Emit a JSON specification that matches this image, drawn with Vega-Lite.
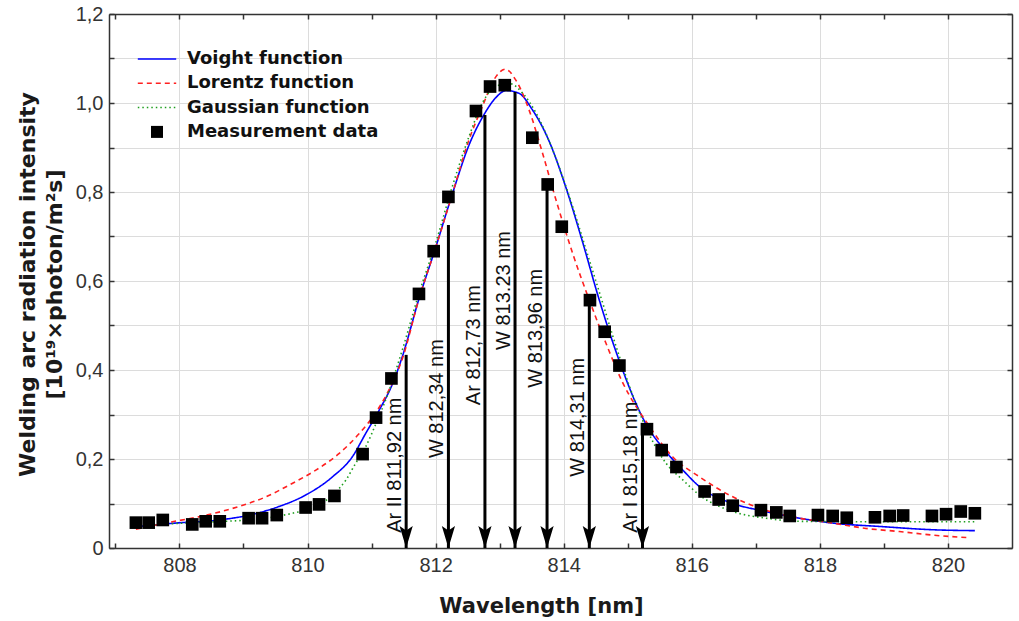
{
  "$schema": "https://vega.github.io/schema/vega-lite/v6.json",
  "width": 903,
  "height": 534,
  "autosize": {"type": "none"},
  "padding": {"left": 109, "top": 14, "right": 7, "bottom": 73},
  "background": "white",
  "config": {"view": {"stroke": null}, "font": "Liberation Sans"},
  "datasets": {
    "curves": [
      {"series": "Voight function", "wl": 807.32, "value": 0.048},
      {"series": "Voight function", "wl": 807.94, "value": 0.056},
      {"series": "Voight function", "wl": 808.62, "value": 0.063},
      {"series": "Voight function", "wl": 809.09, "value": 0.074},
      {"series": "Voight function", "wl": 809.55, "value": 0.093},
      {"series": "Voight function", "wl": 809.97, "value": 0.119},
      {"series": "Voight function", "wl": 810.39, "value": 0.160},
      {"series": "Voight function", "wl": 810.70, "value": 0.205},
      {"series": "Voight function", "wl": 810.91, "value": 0.258},
      {"series": "Voight function", "wl": 811.12, "value": 0.310},
      {"series": "Voight function", "wl": 811.33, "value": 0.370},
      {"series": "Voight function", "wl": 811.48, "value": 0.430},
      {"series": "Voight function", "wl": 811.74, "value": 0.560},
      {"series": "Voight function", "wl": 812.00, "value": 0.675},
      {"series": "Voight function", "wl": 812.26, "value": 0.795},
      {"series": "Voight function", "wl": 812.52, "value": 0.905},
      {"series": "Voight function", "wl": 812.76, "value": 0.975},
      {"series": "Voight function", "wl": 812.94, "value": 1.012},
      {"series": "Voight function", "wl": 813.10, "value": 1.028},
      {"series": "Voight function", "wl": 813.30, "value": 1.022},
      {"series": "Voight function", "wl": 813.51, "value": 0.985},
      {"series": "Voight function", "wl": 813.77, "value": 0.915},
      {"series": "Voight function", "wl": 814.03, "value": 0.812},
      {"series": "Voight function", "wl": 814.29, "value": 0.690},
      {"series": "Voight function", "wl": 814.55, "value": 0.560},
      {"series": "Voight function", "wl": 814.82, "value": 0.440},
      {"series": "Voight function", "wl": 815.28, "value": 0.280},
      {"series": "Voight function", "wl": 815.60, "value": 0.216},
      {"series": "Voight function", "wl": 815.86, "value": 0.175},
      {"series": "Voight function", "wl": 816.12, "value": 0.138},
      {"series": "Voight function", "wl": 816.64, "value": 0.100},
      {"series": "Voight function", "wl": 817.05, "value": 0.085},
      {"series": "Voight function", "wl": 817.68, "value": 0.067},
      {"series": "Voight function", "wl": 818.20, "value": 0.056},
      {"series": "Voight function", "wl": 818.98, "value": 0.048},
      {"series": "Voight function", "wl": 819.76, "value": 0.041},
      {"series": "Voight function", "wl": 820.42, "value": 0.039},

      {"series": "Lorentz function", "wl": 807.32, "value": 0.042},
      {"series": "Lorentz function", "wl": 807.78, "value": 0.056},
      {"series": "Lorentz function", "wl": 808.30, "value": 0.070},
      {"series": "Lorentz function", "wl": 808.83, "value": 0.089},
      {"series": "Lorentz function", "wl": 809.35, "value": 0.115},
      {"series": "Lorentz function", "wl": 809.76, "value": 0.145},
      {"series": "Lorentz function", "wl": 810.13, "value": 0.175},
      {"series": "Lorentz function", "wl": 810.49, "value": 0.212},
      {"series": "Lorentz function", "wl": 810.80, "value": 0.256},
      {"series": "Lorentz function", "wl": 811.07, "value": 0.305},
      {"series": "Lorentz function", "wl": 811.27, "value": 0.355},
      {"series": "Lorentz function", "wl": 811.48, "value": 0.425},
      {"series": "Lorentz function", "wl": 811.74, "value": 0.560},
      {"series": "Lorentz function", "wl": 812.00, "value": 0.675},
      {"series": "Lorentz function", "wl": 812.26, "value": 0.795},
      {"series": "Lorentz function", "wl": 812.52, "value": 0.917},
      {"series": "Lorentz function", "wl": 812.73, "value": 0.992},
      {"series": "Lorentz function", "wl": 812.91, "value": 1.052},
      {"series": "Lorentz function", "wl": 813.09, "value": 1.076},
      {"series": "Lorentz function", "wl": 813.25, "value": 1.052},
      {"series": "Lorentz function", "wl": 813.46, "value": 0.984},
      {"series": "Lorentz function", "wl": 813.67, "value": 0.887},
      {"series": "Lorentz function", "wl": 813.88, "value": 0.782},
      {"series": "Lorentz function", "wl": 814.14, "value": 0.662},
      {"series": "Lorentz function", "wl": 814.40, "value": 0.557},
      {"series": "Lorentz function", "wl": 814.66, "value": 0.460},
      {"series": "Lorentz function", "wl": 814.91, "value": 0.375},
      {"series": "Lorentz function", "wl": 815.34, "value": 0.273},
      {"series": "Lorentz function", "wl": 815.70, "value": 0.205},
      {"series": "Lorentz function", "wl": 816.12, "value": 0.160},
      {"series": "Lorentz function", "wl": 816.64, "value": 0.115},
      {"series": "Lorentz function", "wl": 817.16, "value": 0.085},
      {"series": "Lorentz function", "wl": 817.68, "value": 0.067},
      {"series": "Lorentz function", "wl": 818.20, "value": 0.056},
      {"series": "Lorentz function", "wl": 818.72, "value": 0.044},
      {"series": "Lorentz function", "wl": 819.24, "value": 0.037},
      {"series": "Lorentz function", "wl": 819.76, "value": 0.029},
      {"series": "Lorentz function", "wl": 820.34, "value": 0.023},

      {"series": "Gaussian function", "wl": 807.32, "value": 0.050},
      {"series": "Gaussian function", "wl": 807.94, "value": 0.055},
      {"series": "Gaussian function", "wl": 808.57, "value": 0.059},
      {"series": "Gaussian function", "wl": 809.35, "value": 0.067},
      {"series": "Gaussian function", "wl": 809.76, "value": 0.078},
      {"series": "Gaussian function", "wl": 810.13, "value": 0.093},
      {"series": "Gaussian function", "wl": 810.39, "value": 0.119},
      {"series": "Gaussian function", "wl": 810.60, "value": 0.153},
      {"series": "Gaussian function", "wl": 810.75, "value": 0.190},
      {"series": "Gaussian function", "wl": 810.91, "value": 0.228},
      {"series": "Gaussian function", "wl": 811.07, "value": 0.280},
      {"series": "Gaussian function", "wl": 811.22, "value": 0.333},
      {"series": "Gaussian function", "wl": 811.48, "value": 0.445},
      {"series": "Gaussian function", "wl": 811.74, "value": 0.572},
      {"series": "Gaussian function", "wl": 812.00, "value": 0.685},
      {"series": "Gaussian function", "wl": 812.26, "value": 0.812},
      {"series": "Gaussian function", "wl": 812.52, "value": 0.924},
      {"series": "Gaussian function", "wl": 812.73, "value": 1.000},
      {"series": "Gaussian function", "wl": 812.94, "value": 1.037},
      {"series": "Gaussian function", "wl": 813.15, "value": 1.044},
      {"series": "Gaussian function", "wl": 813.36, "value": 1.022},
      {"series": "Gaussian function", "wl": 813.57, "value": 0.977},
      {"series": "Gaussian function", "wl": 813.83, "value": 0.894},
      {"series": "Gaussian function", "wl": 814.09, "value": 0.789},
      {"series": "Gaussian function", "wl": 814.35, "value": 0.670},
      {"series": "Gaussian function", "wl": 814.61, "value": 0.550},
      {"series": "Gaussian function", "wl": 814.82, "value": 0.452},
      {"series": "Gaussian function", "wl": 815.23, "value": 0.288},
      {"series": "Gaussian function", "wl": 815.60, "value": 0.190},
      {"series": "Gaussian function", "wl": 815.86, "value": 0.153},
      {"series": "Gaussian function", "wl": 816.12, "value": 0.119},
      {"series": "Gaussian function", "wl": 816.64, "value": 0.082},
      {"series": "Gaussian function", "wl": 817.16, "value": 0.067},
      {"series": "Gaussian function", "wl": 817.68, "value": 0.060},
      {"series": "Gaussian function", "wl": 818.72, "value": 0.059},
      {"series": "Gaussian function", "wl": 820.42, "value": 0.059}
    ],
    "meas": [
      {"wl": 807.32, "value": 0.057}, {"wl": 807.52, "value": 0.057}, {"wl": 807.74, "value": 0.063},
      {"wl": 808.20, "value": 0.053}, {"wl": 808.41, "value": 0.060}, {"wl": 808.63, "value": 0.060},
      {"wl": 809.08, "value": 0.067}, {"wl": 809.29, "value": 0.067}, {"wl": 809.52, "value": 0.074},
      {"wl": 809.97, "value": 0.091}, {"wl": 810.18, "value": 0.098}, {"wl": 810.42, "value": 0.117},
      {"wl": 810.86, "value": 0.211}, {"wl": 811.07, "value": 0.293}, {"wl": 811.31, "value": 0.381},
      {"wl": 811.74, "value": 0.571}, {"wl": 811.97, "value": 0.667}, {"wl": 812.20, "value": 0.789},
      {"wl": 812.63, "value": 0.982}, {"wl": 812.85, "value": 1.037}, {"wl": 813.08, "value": 1.040},
      {"wl": 813.51, "value": 0.922}, {"wl": 813.75, "value": 0.817}, {"wl": 813.97, "value": 0.722},
      {"wl": 814.41, "value": 0.557}, {"wl": 814.64, "value": 0.486}, {"wl": 814.87, "value": 0.410},
      {"wl": 815.30, "value": 0.267}, {"wl": 815.53, "value": 0.220}, {"wl": 815.76, "value": 0.182},
      {"wl": 816.20, "value": 0.127}, {"wl": 816.42, "value": 0.109}, {"wl": 816.64, "value": 0.095},
      {"wl": 817.08, "value": 0.085}, {"wl": 817.32, "value": 0.080}, {"wl": 817.53, "value": 0.072},
      {"wl": 817.97, "value": 0.074}, {"wl": 818.20, "value": 0.072}, {"wl": 818.42, "value": 0.068},
      {"wl": 818.86, "value": 0.069}, {"wl": 819.09, "value": 0.072}, {"wl": 819.30, "value": 0.073},
      {"wl": 819.75, "value": 0.072}, {"wl": 819.97, "value": 0.076}, {"wl": 820.20, "value": 0.082},
      {"wl": 820.42, "value": 0.078}
    ],
    "arrows": [
      {"label": "Ar II 811,92 nm", "wl": 811.54, "top": 0.434, "labelStart": 0.034},
      {"label": "W 812,34 nm", "wl": 812.20, "top": 0.726, "labelStart": 0.202},
      {"label": "Ar 812,73 nm", "wl": 812.77, "top": 0.973, "labelStart": 0.321},
      {"label": "W 813.23 nm", "wl": 813.24, "top": 1.025, "labelStart": 0.445},
      {"label": "W 813,96 nm", "wl": 813.74, "top": 0.823, "labelStart": 0.36},
      {"label": "W 814,31 nm", "wl": 814.40, "top": 0.561, "labelStart": 0.16},
      {"label": "Ar I 815,18 nm", "wl": 815.23, "top": 0.279, "labelStart": 0.034}
    ]
  },
  "resolve": {"axis": {"x": "independent", "y": "independent"}},
  "layer": [
    {
      "data": {"name": "curves"},
      "mark": {"type": "line", "interpolate": "monotone", "strokeWidth": 1.6},
      "encoding": {
        "x": {
          "field": "wl", "type": "quantitative",
          "scale": {"domain": [806.9, 821.0], "nice": false, "zero": false},
          "axis": {
            "orient": "bottom",
            "values": [807, 808, 809, 810, 811, 812, 813, 814, 815, 816, 817, 818, 819, 820],
            "labelExpr": "datum.value % 2 == 0 ? datum.label : ''",
            "labelFont": "Liberation Sans", "labelFontSize": 20, "labelColor": "#333333",
            "labelPadding": 12,
            "tickSize": -5, "tickColor": "#333333", "tickWidth": 1.5,
            "domainColor": "#333333", "domainWidth": 1.5,
            "grid": true, "gridColor": "#dcdcdc", "gridWidth": 1,
            "gridOpacity": {"condition": {"test": "datum.value % 2 == 0", "value": 1}, "value": 0},
            "title": "Wavelength [nm]",
            "titleFont": "DejaVu Sans", "titleFontWeight": "bold", "titleFontSize": 21, "titleColor": "#1a1a1a",
            "titleX": 432, "titleY": 64, "titleAlign": "center", "titleBaseline": "alphabetic"
          }
        },
        "y": {
          "field": "value", "type": "quantitative",
          "scale": {"domain": [0, 1.2], "nice": false, "zero": true},
          "axis": {
            "orient": "left",
            "values": [0, 0.1, 0.2, 0.3, 0.4, 0.5, 0.6, 0.7, 0.8, 0.9, 1.0, 1.1, 1.2],
            "labelExpr": "round(datum.value * 10) % 2 == 0 ? (datum.value == 0 ? '0' : replace(format(datum.value, '.1f'), '.', ',')) : ''",
            "labelFont": "Liberation Sans", "labelFontSize": 20, "labelColor": "#333333",
            "labelPadding": 11,
            "tickSize": -5, "tickColor": "#333333", "tickWidth": 1.5,
            "domainColor": "#333333", "domainWidth": 1.5,
            "grid": true, "gridColor": "#dcdcdc", "gridWidth": 1,
            "title": ["Welding arc radiation intensity", "[10¹⁹×photon/m²s]"],
            "titleFont": "DejaVu Sans", "titleFontWeight": "bold", "titleFontSize": 22, "titleLineHeight": 27,
            "titleColor": "#1a1a1a", "titleAngle": 270,
            "titleX": -75, "titleY": 270, "titleAlign": "center", "titleBaseline": "alphabetic"
          }
        },
        "color": {
          "field": "series", "type": "nominal",
          "scale": {
            "domain": ["Voight function", "Lorentz function", "Gaussian function", "Measurement data"],
            "range": ["#0000ff", "#ff2020", "#1e9e1e", "#000000"]
          },
          "legend": {
            "orient": "none", "legendX": 39, "legendY": 36, "title": null,
            "padding": 0, "symbolOffset": 0, "labelOffset": 21, "rowPadding": 6.3,
            "symbolSize": 144, "symbolStrokeWidth": 1.5,
            "labelFont": "DejaVu Sans", "labelFontWeight": "bold", "labelFontSize": 18,
            "labelColor": "#111111", "labelLimit": 400,
            "encode": {
              "symbols": {
                "update": {
                  "shape": {"signal": "datum.value === 'Measurement data' ? 'square' : 'M-3.2,0L3.2,0'"},
                  "fill": {"signal": "datum.value === 'Measurement data' ? '#000000' : 'transparent'"},
                  "stroke": {"scale": "color", "field": "value"},
                  "strokeDash": {"scale": "strokeDash", "field": "value"},
                  "strokeWidth": {"signal": "datum.value === 'Measurement data' ? 0 : 1.5"},
                  "opacity": {"value": 1}
                }
              }
            }
          }
        },
        "strokeDash": {
          "field": "series", "type": "nominal",
          "scale": {
            "domain": ["Voight function", "Lorentz function", "Gaussian function", "Measurement data"],
            "range": [[1, 0], [5, 4], [1.5, 3], [1, 0]]
          },
          "legend": null
        }
      }
    },
    {
      "data": {"name": "arrows"},
      "mark": {"type": "rule", "strokeWidth": 3, "color": "#000000"},
      "encoding": {
        "x": {"field": "wl", "type": "quantitative", "axis": null},
        "y": {"field": "top", "type": "quantitative", "axis": null},
        "y2": {"datum": 0}
      }
    },
    {
      "data": {"name": "arrows"},
      "mark": {"type": "point", "shape": "M0,0L-0.6,-2L0,-1.6L0.6,-2Z", "size": 484, "filled": true, "color": "#000000", "opacity": 1},
      "encoding": {
        "x": {"field": "wl", "type": "quantitative", "axis": null},
        "y": {"datum": 0, "type": "quantitative", "axis": null}
      }
    },
    {
      "data": {"name": "arrows"},
      "mark": {"type": "text", "angle": 270, "align": "left", "baseline": "alphabetic", "dy": -5, "font": "Liberation Sans", "fontSize": 20, "color": "#111111"},
      "encoding": {
        "x": {"field": "wl", "type": "quantitative", "axis": null},
        "y": {"field": "labelStart", "type": "quantitative", "axis": null},
        "text": {"field": "label"}
      }
    },
    {
      "data": {"name": "meas"},
      "mark": {"type": "square", "size": 160, "color": "#000000", "opacity": 1},
      "encoding": {
        "x": {
          "field": "wl", "type": "quantitative",
          "axis": {
            "orient": "top", "values": [807, 808, 809, 810, 811, 812, 813, 814, 815, 816, 817, 818, 819, 820],
            "labels": false, "grid": false, "title": null,
            "tickSize": -5, "tickColor": "#333333", "tickWidth": 1.5,
            "domainColor": "#333333", "domainWidth": 1.5
          }
        },
        "y": {
          "field": "value", "type": "quantitative",
          "axis": {
            "orient": "right", "values": [0, 0.1, 0.2, 0.3, 0.4, 0.5, 0.6, 0.7, 0.8, 0.9, 1.0, 1.1, 1.2],
            "labels": false, "grid": false, "title": null,
            "tickSize": -5, "tickColor": "#333333", "tickWidth": 1.5,
            "domainColor": "#333333", "domainWidth": 1.5
          }
        }
      }
    }
  ]
}
